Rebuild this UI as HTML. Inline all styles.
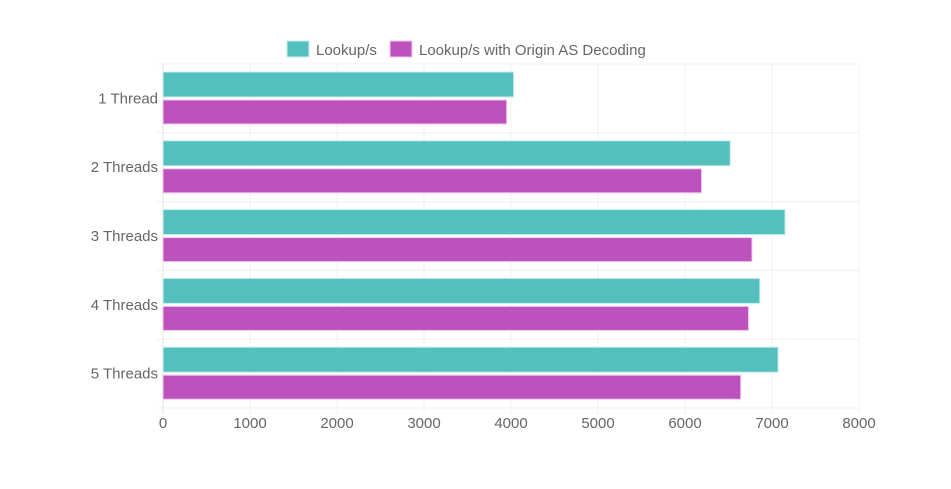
<!DOCTYPE html>
<html><head><meta charset="utf-8"><style>
body{margin:0;background:#fff;font-family:"Liberation Sans",sans-serif;}
svg text{font-family:"Liberation Sans",sans-serif;fill:#666;}
</style></head><body>
<svg id="chart" width="951" height="484" xmlns="http://www.w3.org/2000/svg">
<g id="legend">
<g><rect x="287" y="41" width="22" height="16" fill="#53c0be" stroke="#c8eeee"/><text x="316" y="55" font-size="15">Lookup/s</text></g>
<g><rect x="390" y="41" width="22" height="16" fill="#bd52bd" stroke="#eec8ee"/><text x="419" y="55" font-size="15">Lookup/s with Origin AS Decoding</text></g>
</g>
<g id="grid"></g>
<g id="bars"></g>
<g id="labels"></g>
</svg>
<script>
const categories=["1 Thread","2 Threads","3 Threads","4 Threads","5 Threads"];
const lookups=[4030,6520,7150,6860,7070];
const lookupsOrigin=[3950,6190,6770,6730,6640];
const xTicks=[0,1000,2000,3000,4000,5000,6000,7000,8000];
const NS="http://www.w3.org/2000/svg";
const L=163,R=859,T=64,B=408,XMAX=8000;
const x=v=>L+(v/XMAX)*(R-L);
const band=(B-T)/categories.length;
const g=document.getElementById('grid'),bg=document.getElementById('bars'),lg=document.getElementById('labels');
function mk(tag,attrs,parent){const e=document.createElementNS(NS,tag);for(const k in attrs)e.setAttribute(k,attrs[k]);parent.appendChild(e);return e;}
xTicks.forEach(t=>{
 const ln=mk('line',{x1:x(t),x2:x(t),y1:T,y2:B+6,stroke:t===0?'#e0e0e0':'#f0f0f0'},g);
 
 
 const tx=mk('text',{x:x(t),y:428,'font-size':15,'text-anchor':'middle'},lg);
 tx.textContent=t;
 
 
});
for(let i=0;i<=categories.length;i++){
 const ln=mk('line',{x1:L-6,x2:R,y1:T+i*band,y2:T+i*band,stroke:'#f0f0f0'},g);
 
 
}
categories.forEach((c,i)=>{
 const y0=T+i*band;
 const r1=mk('rect',{x:L,y:y0+8,width:x(lookups[i])-L,height:25,fill:'#53c0be',stroke:'#c8eeee'},bg);
 
 
 const r2=mk('rect',{x:L,y:y0+36,width:x(lookupsOrigin[i])-L,height:24,fill:'#bd52bd',stroke:'#eec8ee'},bg);
 
 
 const tx=mk('text',{x:158,y:y0+band/2+5,'font-size':15,'text-anchor':'end'},lg);
 tx.textContent=c;
 
 
});
</script>
</body></html>
